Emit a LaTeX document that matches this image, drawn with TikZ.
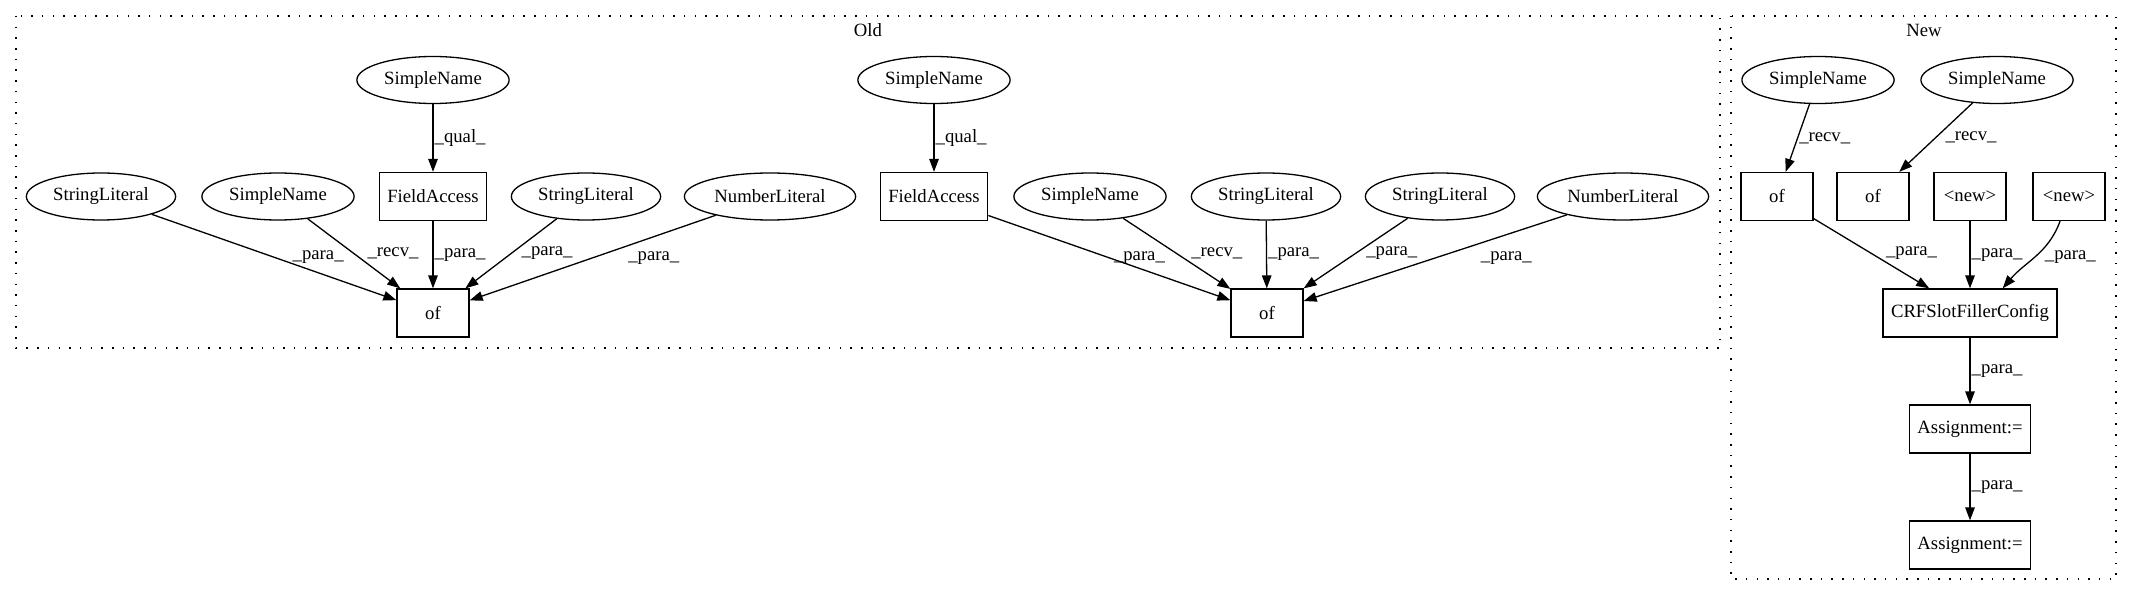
\documentclass[tikz,border=0pt]{standalone}
\usepackage{fontspec}
\setmainfont{Liberation Serif}
\usetikzlibrary{arrows.meta}
\usetikzlibrary{shapes.geometric}
\usetikzlibrary{positioning}

\begin{document}
\begin{tikzpicture}[x=1pt,y=-1pt,
                    line width=1.3pt,
                    every node/.style={font=\fontsize{18.7}{22}\selectfont},
                    ast/.style={draw,ellipse,inner xsep=5pt,inner ysep=2pt,
                                minimum height=47pt},
                    op/.style={draw,rectangle,inner xsep=8pt,
                               minimum width=72pt,minimum height=48pt},
                    edge/.style={-{Triangle[length=13pt,width=9.5pt]}},
                    lbl/.style={midway,anchor=west,inner sep=1pt},
                    cluster/.style={draw,dash pattern=on 1.5pt off 9.2pt}]
\useasboundingbox (0,0) rectangle (2133,596);
% Let us start with the two clusters:
\draw[cluster] (16,16) rectangle (1720,348);
\node (old title) at (868,30) {Old};
\draw[cluster] (1731,16) rectangle (2116,579);
\node (new title) at (1924,30) {New};
%
\foreach \i/\x in {1/433,2/934}
{
      \node [ast] (qual name \i) at (\x,80) {SimpleName};
      \node [op] (field \i) at (\x,196.5) {FieldAccess};
      \draw [edge] (qual name \i) -- node[lbl] {\_qual\_} (field \i);
}
%
\node [ast] (str 1) at (101,196.5) {StringLiteral};
\node [ast] (recv name 1) at (278,196.5) {SimpleName};
\node [ast] (str 2) at (586,196.5) {StringLiteral};
\node [ast] (num 1) at (770,196.5) {NumberLiteral};
\node [op] (of 1) at (433,313) {of};
\draw [edge] (str 1) -- node[lbl,xshift=17pt] {\_para\_} (of 1);
\draw [edge] (recv name 1) -- node[lbl,xshift=12pt] {\_recv\_} (of 1);
\draw [edge] (field 1) -- node[lbl] {\_para\_} (of 1);
\draw [edge] (str 2) -- node[lbl,xshift=9pt] {\_para\_} (of 1);
\draw [edge] (num 1) -- node[lbl,xshift=34pt] {\_para\_} (of 1);
%
\node [ast] (recv name 2) at (1090,196.5) {SimpleName};
\node [ast] (str 3) at (1266,196.5) {StringLiteral};
\node [ast] (str 4) at (1440,196.5) {StringLiteral};
\node [ast] (num 2) at (1623,196.5) {NumberLiteral};
\node [op] (of 2) at (1267,313) {of};
\draw [edge] (field 2) -- node[lbl,xshift=3pt] {\_para\_} (of 2);
\draw [edge] (recv name 2) -- node[lbl,xshift=13pt] {\_recv\_} (of 2);
\draw [edge] (str 3) -- node[lbl] {\_para\_} (of 2);
\draw [edge] (str 4) -- node[lbl,xshift=9pt] {\_para\_} (of 2);
\draw [edge] (num 2) -- node[lbl,xshift=44pt] {\_para\_} (of 2);
%
% The new code:
\node [ast] (new name 1) at (1818,80) {SimpleName};
\node [ast] (new name 2) at (1997,80) {SimpleName};
\node [op] (of 3) at (1777,196.5) {of};
\node [op] (of 4) at (1873,196.5) {of};
\node [op] (new 1) at (1970,196.5) {<new>};
\node [op] (new 2) at (2069,196.5) {<new>};
\node [op] (config) at (1970,313) {CRFSlotFillerConfig};
\node [op] (assign 1) at (1970,429) {Assignment:=};
\node [op] (assign 2) at (1970,545) {Assignment:=};
\draw [edge] (new name 1) -- node[lbl] {\_recv\_} (of 3);
\draw [edge] (new name 2) -- node[lbl,xshift=8pt] {\_recv\_} (of 4);
\draw [edge] (of 3) -- node[lbl,xshift=13pt] {\_para\_} (config);
\draw [edge] (new 1) -- node[lbl] {\_para\_} (config);
\draw [edge] (new 2) to [out=-110,in=50] node[lbl,xshift=8pt] {\_para\_} (config.37);
\draw [edge] (config) -- node[lbl] {\_para\_} (assign 1);
\draw [edge] (assign 1) -- node[lbl] {\_para\_} (assign 2);
\end{tikzpicture}
\end{document}
